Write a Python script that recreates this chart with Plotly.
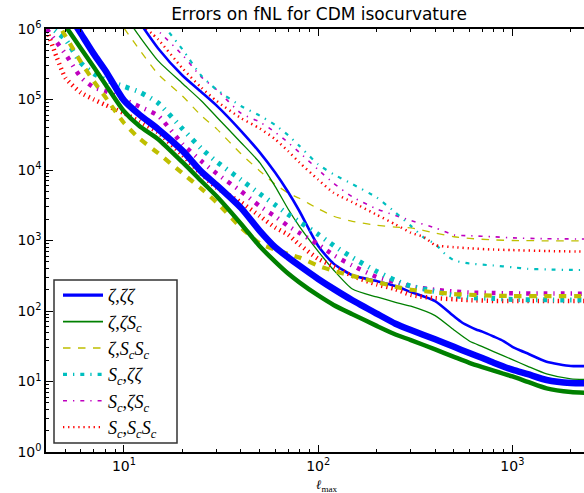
import plotly.graph_objects as go

# ---------------- data ----------------
ell_blue_thick = [5, 6, 7, 8, 10, 12, 15, 20, 25, 30, 40, 50, 60, 70, 80, 100, 120, 150, 200, 250, 300, 400, 500, 600, 700, 800, 1000, 1200, 1500, 2000, 2500]
val_blue_thick = [1.9e6, 8.6e5, 4.4e5, 2.6e5, 9.7e4, 6.1e4, 3.8e4, 1.88e4, 9.5e3, 6.1e3, 2.9e3, 1.37e3, 804, 576, 439, 285, 206, 142, 91.9, 66, 53.6, 39.7, 31.0, 25.3, 21.5, 18.5, 14.7, 12.7, 10.5, 9.5, 9.4]

ell_green_thick = [5, 6, 7, 8, 10, 12, 15, 20, 25, 30, 40, 50, 60, 70, 80, 100, 120, 150, 200, 250, 300, 400, 500, 600, 700, 800, 1000, 1200, 1500, 2000, 2500]
val_green_thick = [1.1e6, 5.3e5, 2.86e5, 1.66e5, 6.8e4, 4.2e4, 2.74e4, 1.29e4, 6.98e3, 4.24e3, 1.73e3, 828, 502, 340, 255, 166, 122, 90, 61.5, 46.4, 38.7, 28.5, 22.4, 18.4, 16, 14.3, 11.8, 9.9, 8.0, 7.1, 6.9]

ell_yellow_thick = [4, 5, 6, 7, 8, 10, 12, 15, 20, 25, 30, 40, 50, 60, 70, 80, 100, 120, 150, 200, 250, 300, 400, 500, 600, 800, 1000, 1500, 2500]
val_yellow_thick = [2.2e6, 7.9e5, 3.4e5, 1.8e5, 1.09e5, 4.64e4, 2.8e4, 1.73e4, 9.0e3, 5.45e3, 3.47e3, 1.53e3, 913, 743, 645, 574, 439, 371, 315, 258, 221, 200, 184, 174, 170, 165, 163, 163, 163]

ell_cyan_thick = [4, 4.5, 5, 6, 7, 8, 10, 12, 15, 20, 25, 30, 40, 50, 60, 70, 80, 100, 120, 150, 200, 250, 300, 400, 500, 600, 800, 1000, 1500, 2500]
val_cyan_thick = [1.18e6, 9.1e5, 7.1e5, 3.3e5, 2.33e5, 1.91e5, 1.53e5, 1.28e5, 8.9e4, 3.84e4, 2.02e4, 1.31e4, 7.3e3, 4.6e3, 3.2e3, 2.35e3, 1.84e3, 1.22e3, 851, 574, 365, 271, 226, 189, 166, 155, 151, 146, 144, 143]

ell_magenta_thick = [4, 4.5, 5, 6, 7, 8, 10, 12, 15, 20, 25, 30, 40, 50, 60, 70, 80, 100, 120, 150, 200, 250, 300, 400, 500, 600, 800, 1000, 1500, 2500]
val_magenta_thick = [1.0e6, 6.5e5, 4.4e5, 2.06e5, 1.48e5, 1.32e5, 1.0e5, 7.98e4, 5.87e4, 2.34e4, 1.34e4, 8.9e3, 5.0e3, 3.08e3, 2.2e3, 1.61e3, 1.28e3, 880, 621, 442, 305, 256, 223, 200, 189, 183, 180, 178, 177, 176]

ell_red_thick = [4, 4.5, 5, 6, 7, 8, 10, 12, 15, 20, 25, 30, 40, 50, 60, 70, 80, 100, 120, 150, 200, 250, 300, 400, 500, 600, 800, 1000, 1500, 2500]
val_red_thick = [9.7e5, 4.0e5, 2.02e5, 1.25e5, 1.0e5, 8.4e4, 6.4e4, 4.88e4, 3.4e4, 1.63e4, 8.8e3, 5.6e3, 3.49e3, 2.23e3, 1.53e3, 1.21e3, 877, 550, 429, 315, 238, 204, 169, 152, 147, 143, 139, 139, 139, 139]

ell_blue_thin = [12, 15, 20, 25, 30, 40, 50, 60, 70, 80, 100, 120, 150, 200, 250, 300, 400, 500, 550, 600, 650, 700, 800, 900, 1000, 1100, 1200, 1500, 2000, 2500]
val_blue_thin = [1.26e6, 5.3e5, 2.19e5, 1.28e5, 8.2e4, 3.6e4, 1.78e4, 9.2e3, 4.87e3, 2.62e3, 836, 470, 322, 266, 226, 186, 138, 84, 68.7, 60.5, 54.8, 51, 43.5, 37.5, 31, 27.5, 24.9, 19.1, 16.6, 16.6]

ell_green_thin = [11, 12, 15, 20, 25, 30, 40, 50, 60, 70, 80, 100, 120, 150, 200, 250, 300, 400, 500, 600, 700, 800, 1000, 1200, 1500, 2000, 2500]
val_green_thin = [1.11e6, 7.9e5, 3.53e5, 1.69e5, 9.6e4, 5.65e4, 2.46e4, 1.27e4, 5.85e3, 2.8e3, 1.59e3, 703, 382, 205, 158, 133, 117, 86, 53.8, 37.5, 31.2, 26.6, 20.4, 16.4, 12.8, 10.9, 10.7]

ell_yellow_thin = [10, 12, 15, 20, 25, 30, 40, 50, 60, 70, 80, 100, 120, 150, 200, 250, 300, 400, 500, 600, 800, 1000, 1500, 2500]
val_yellow_thin = [1.03e6, 5.1e5, 2.28e5, 1.12e5, 5.9e4, 3.83e4, 1.70e4, 9.7e3, 6.3e3, 4.72e3, 3.97e3, 2.82e3, 2.21e3, 1.87e3, 1.65e3, 1.55e3, 1.51e3, 1.28e3, 1.13e3, 1.07e3, 1.02e3, 1.0e3, 990, 984]

ell_cyan_thin = [15, 20, 25, 30, 40, 50, 60, 70, 80, 100, 120, 150, 200, 250, 300, 350, 400, 450, 500, 600, 800, 1000, 1200, 1500, 2000, 2500]
val_cyan_thin = [1.39e6, 5.15e5, 2.18e5, 1.38e5, 8.1e4, 5.9e4, 4.36e4, 3.12e4, 2.2e4, 1.2e4, 8.7e3, 6.3e3, 4.07e3, 2.49e3, 1.61e3, 1.1e3, 892, 644, 524, 472, 442, 417, 397, 388, 382, 382]

ell_magenta_thin = [14, 15, 20, 25, 30, 40, 50, 60, 70, 80, 100, 120, 150, 200, 250, 300, 400, 500, 600, 800, 1000, 1500, 2500]
val_magenta_thin = [1.1e6, 9.4e5, 4.28e5, 2.09e5, 1.38e5, 6.4e4, 4.8e4, 3.43e4, 2.45e4, 1.78e4, 1.01e4, 6.5e3, 4.16e3, 2.81e3, 2.26e3, 1.92e3, 1.51e3, 1.2e3, 1.17e3, 1.13e3, 1.09e3, 1.06e3, 1.05e3]

ell_red_thin = [13, 15, 20, 25, 30, 40, 50, 60, 70, 80, 100, 120, 150, 200, 250, 300, 350, 400, 500, 600, 800, 1000, 1500, 2500]
val_red_thin = [1.02e6, 7.1e5, 2.77e5, 1.48e5, 9.5e4, 5.45e4, 3.89e4, 2.74e4, 1.85e4, 1.28e4, 7.3e3, 4.75e3, 3.49e3, 2.32e3, 1.69e3, 1.29e3, 1.12e3, 863, 804, 775, 743, 731, 710, 693]

legend_labels = [
    "<i>ζ</i>,<i>ζζ</i>",
    "<i>ζ</i>,<i>ζS</i><sub><i>c</i></sub>",
    "<i>ζ</i>,<i>S</i><sub><i>c</i></sub><i>S</i><sub><i>c</i></sub>",
    "<i>S</i><sub><i>c</i></sub>,<i>ζζ</i>",
    "<i>S</i><sub><i>c</i></sub>,<i>ζS</i><sub><i>c</i></sub>",
    "<i>S</i><sub><i>c</i></sub>,<i>S</i><sub><i>c</i></sub><i>S</i><sub><i>c</i></sub>",
]

y_tick_vals = [1, 10, 100, 1000, 10000, 100000, 1000000]
y_tick_text = ["10<sup>0</sup>", "10<sup>1</sup>", "10<sup>2</sup>", "10<sup>3</sup>", "10<sup>4</sup>", "10<sup>5</sup>", "10<sup>6</sup>"]
x_tick_vals = [10, 100, 1000]
x_tick_text = ["10<sup>1</sup>", "10<sup>2</sup>", "10<sup>3</sup>"]

# ---------------- styles ----------------
BLUE, GREEN, YELLOW, CYAN, MAGENTA, RED = "#0000ff", "#008000", "#bfbf00", "#00bfbf", "#bf00bf", "#ff0000"
DASH = "7.5px,7.5px"
DASHDOT = "4px,6px,1.3px,6px"
DOT = "1.3px,3.8px"

series = [
    (ell_yellow_thin, val_yellow_thin, YELLOW, 1.3, DASH),
    (ell_magenta_thin, val_magenta_thin, MAGENTA, 1.6, DASHDOT),
    (ell_cyan_thin, val_cyan_thin, CYAN, 2.2, DASHDOT),
    (ell_red_thin, val_red_thin, RED, 2.5, DOT),
    (ell_green_thin, val_green_thin, GREEN, 1.3, "solid"),
    (ell_blue_thin, val_blue_thin, BLUE, 2.6, "solid"),
    (ell_red_thick, val_red_thick, RED, 4.5, DOT),
    (ell_magenta_thick, val_magenta_thick, MAGENTA, 4.5, DASHDOT),
    (ell_cyan_thick, val_cyan_thick, CYAN, 5, DASHDOT),
    (ell_yellow_thick, val_yellow_thick, YELLOW, 4.2, DASH),
    (ell_green_thick, val_green_thick, GREEN, 4.5, "solid"),
    (ell_blue_thick, val_blue_thick, BLUE, 6.5, "solid"),
]

legend_styles = [
    (BLUE, 3.2, "solid"),
    (GREEN, 1.8, "solid"),
    (YELLOW, 1.6, DASH),
    (CYAN, 3.2, DASHDOT),
    (MAGENTA, 1.6, DASHDOT),
    (RED, 2.2, DOT),
]

fig = go.Figure()
for ex, vy, col, w, d in series:
    fig.add_trace(go.Scatter(x=ex, y=vy, mode="lines", showlegend=False, hoverinfo="skip",
                             line=dict(color=col, width=w, dash=d, shape="spline", smoothing=0.6)))

for lab, (col, w, d) in zip(legend_labels, legend_styles):
    fig.add_trace(go.Scatter(x=[None], y=[None], mode="lines", name=lab,
                             line=dict(color=col, width=w, dash=d)))

W, H = 584, 493
L, R, T, B = 46, 0, 29, 41
PW, PH = W - L - R, H - T - B


def px_x(p):
    return (p - L) / PW


def px_y(p):
    return (H - B - p) / PH


fig.update_layout(
    width=W, height=H,
    margin=dict(l=L, r=R, t=T, b=B, pad=0),
    paper_bgcolor="white", plot_bgcolor="white",
    font=dict(family="DejaVu Sans", color="black", size=14),
    title=dict(text="Errors on fNL for CDM isocurvature", xref="container", x=319 / W, xanchor="center",
               y=1 - 14 / H, yanchor="middle", font=dict(size=17, family="DejaVu Sans", color="black")),
    showlegend=True,
    legend=dict(x=px_x(58), y=px_y(277), xanchor="left", yanchor="top",
                bgcolor="rgba(0,0,0,0)", borderwidth=0,
                font=dict(family="Liberation Serif", size=18, color="black"),
                itemwidth=40, tracegroupgap=0),
    shapes=[dict(type="rect", xref="paper", yref="paper",
                 x0=px_x(54), x1=px_x(177), y0=px_y(443), y1=px_y(280),
                 fillcolor="white", line=dict(color="#333333", width=1.5), layer="above")],
)

fig.update_xaxes(
    type="log", range=[0.5984, 3.3687],
    showline=True, linecolor="black", linewidth=1.5, mirror="ticks",
    ticks="inside", ticklen=7, tickwidth=1, tickcolor="black",
    tickmode="array", tickvals=x_tick_vals, ticktext=x_tick_text,
    tickfont=dict(size=14, family="DejaVu Sans", color="black"),
    minor=dict(ticks="inside", ticklen=3.5, tickwidth=1, tickcolor="black",
               tickmode="array",
               tickvals=[m * 10 ** k for k in range(0, 4) for m in range(2, 10)]),
    showgrid=False, zeroline=False,
)
fig.update_yaxes(
    type="log", range=[0, 6],
    showline=True, linecolor="black", linewidth=1.5, mirror=False,
    ticks="inside", ticklen=7, tickwidth=1, tickcolor="black",
    tickmode="array", tickvals=y_tick_vals, ticktext=y_tick_text,
    tickfont=dict(size=14, family="DejaVu Sans", color="black"),
    minor=dict(ticks="inside", ticklen=3.5, tickwidth=1, tickcolor="black",
               tickmode="array",
               tickvals=[m * 10 ** k for k in range(0, 6) for m in range(2, 10)]),
    showgrid=False, zeroline=False,
)

fig.add_annotation(text="<i>ℓ</i><sub>max</sub>", xref="paper", yref="paper",
                   x=px_x(327), y=px_y(486),
                   xanchor="center", yanchor="middle", showarrow=False,
                   font=dict(family="Liberation Serif", size=13, color="black"))

fig.write_html("out.html", config={"displayModeBar": False},
               post_script="document.body.style.margin='0';document.body.style.overflow='hidden';")
